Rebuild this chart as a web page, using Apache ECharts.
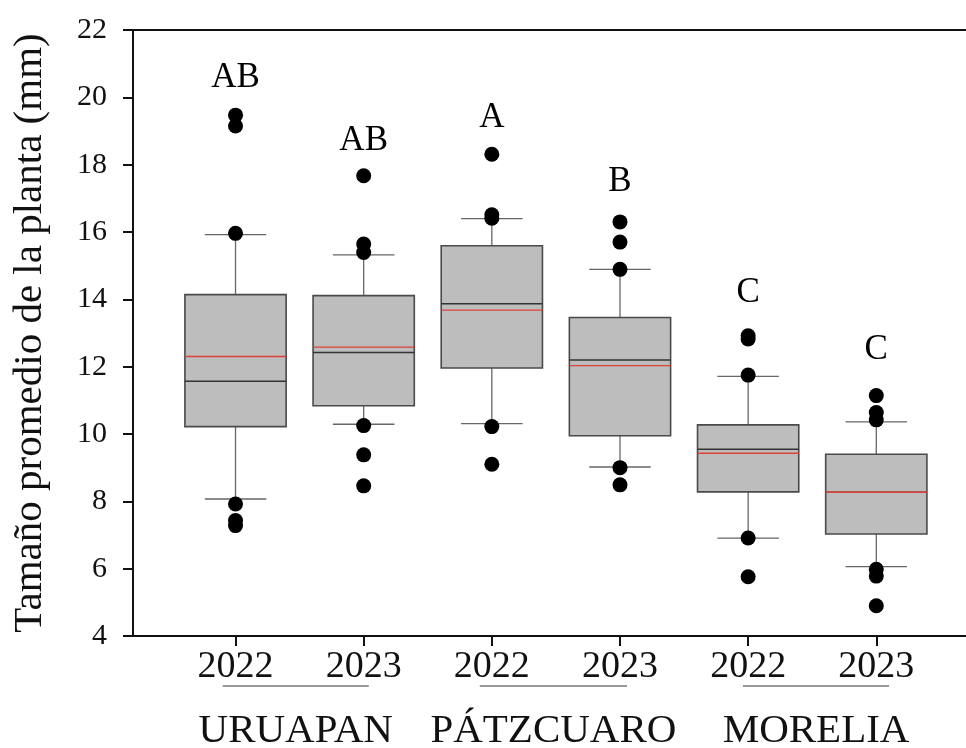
<!DOCTYPE html>
<html>
<head>
<meta charset="utf-8">
<script src="https://cdn.jsdelivr.net/npm/echarts@6/dist/echarts.min.js"></script>
<style>html,body{margin:0;padding:0;background:#fff}#c{width:966px;height:748px}</style>
</head>
<body>
<div id="c"></div>
<script>
// ---------------- data ----------------
const years = ['2022', '2023', '2022', '2023', '2022', '2023'];
const groups = ['URUAPAN', 'PÁTZCUARO', 'MORELIA'];
const groupSpans = [[0.90, 2.04], [2.906, 4.055], [4.96, 6.10]];
const whiskerLow = [8.07, 10.29, 10.31, 9.02, 6.91, 6.06];
const q1 = [10.22, 10.84, 11.96, 9.95, 8.28, 7.03];
const median = [11.57, 12.42, 13.87, 12.20, 9.55, 8.27];
const q3 = [14.14, 14.11, 15.59, 13.46, 10.27, 9.40];
const whiskerHigh = [15.92, 15.32, 16.40, 14.89, 11.71, 10.36];
const mean = [12.30, 12.58, 13.68, 12.03, 9.43, 8.27];
const outliers = [
  [19.47, 19.15, 15.96, 7.92, 7.43, 7.28],
  [17.67, 15.64, 15.39, 10.25, 9.38, 8.46],
  [18.31, 16.51, 16.41, 10.22, 9.10],
  [16.30, 15.70, 14.89, 9.00, 8.49],
  [12.92, 12.82, 11.75, 6.91, 5.76],
  [11.14, 10.64, 10.42, 5.98, 5.78, 4.90]
];
const letters = ['AB', 'AB', 'A', 'B', 'C', 'C'];
const letterY = [20.58, 18.72, 19.38, 17.48, 14.18, 12.50];

// -------------- build ---------------
const positions = years.map((_, i) => i + 1);
const boxData = positions.map((p, i) => [p, whiskerLow[i], q1[i], median[i], q3[i], whiskerHigh[i], mean[i]]);
const outlierData = [];
outliers.forEach((arr, i) => arr.forEach(v => outlierData.push([positions[i], v])));
const letterData = positions.map((p, i) => [p, letterY[i], letters[i]]);
const groupData = groupSpans.map((s, i) => [s[0], s[1], groups[i]]);

const FONT = '"Liberation Serif", "Times New Roman", serif';
const BOX_W = 0.79, CAP_W = 0.48;

const chart = echarts.init(document.getElementById('c'), null, { renderer: 'canvas' });
chart.setOption({
  backgroundColor: '#fff',
  animation: false,
  grid: { left: 133, right: 0, top: 30, bottom: 112, containLabel: false, outerBoundsMode: 'none' },
  xAxis: [{
    type: 'value', min: 0.2, max: 6.7, position: 'bottom',
    axisLine: { show: true, lineStyle: { color: '#111', width: 2 } },
    axisTick: { show: true, customValues: positions, length: 10, lineStyle: { color: '#111', width: 2 } },
    axisLabel: {
      show: true, customValues: positions, margin: 12,
      formatter: v => years[Math.round(v) - 1] || '',
      fontFamily: FONT, fontSize: 38, color: '#111'
    },
    splitLine: { show: false }
  }, {
    type: 'value', min: 0.2, max: 6.7, position: 'top',
    axisLine: { show: true, lineStyle: { color: '#111', width: 2 } },
    axisTick: { show: false }, axisLabel: { show: false }, splitLine: { show: false }
  }],
  yAxis: {
    type: 'value', min: 4, max: 22, interval: 2,
    name: 'Tamaño promedio de la planta (mm)', nameLocation: 'middle', nameGap: 82,
    nameTextStyle: { fontFamily: FONT, fontSize: 41, color: '#111' },
    axisLine: { show: true, lineStyle: { color: '#111', width: 2 } },
    axisTick: { show: true, inside: false, length: 10, lineStyle: { color: '#111', width: 2 } },
    axisLabel: { margin: 26, fontFamily: FONT, fontSize: 30, color: '#111' },
    splitLine: { show: false }
  },
  series: [{
    type: 'custom',
    data: boxData,
    encode: { x: 0, y: [1, 2, 3, 4, 5] },
    z: 2,
    renderItem: function (params, api) {
      const x = api.value(0);
      const lo = api.value(1), a = api.value(2), md = api.value(3), b = api.value(4), hi = api.value(5), mn = api.value(6);
      const c = (xx, yy) => api.coord([xx, yy]);
      const gray = { stroke: '#666', lineWidth: 1.3 };
      const tl = c(x - BOX_W / 2, b), br = c(x + BOX_W / 2, a);
      const ln = (p1, p2, style) => ({ type: 'line', shape: { x1: p1[0], y1: p1[1], x2: p2[0], y2: p2[1] }, style: style });
      return {
        type: 'group',
        children: [
          ln(c(x, hi), c(x, b), gray),
          ln(c(x, a), c(x, lo), gray),
          ln(c(x - CAP_W / 2, hi), c(x + CAP_W / 2, hi), gray),
          ln(c(x - CAP_W / 2, lo), c(x + CAP_W / 2, lo), gray),
          { type: 'rect', shape: { x: tl[0], y: tl[1], width: br[0] - tl[0], height: br[1] - tl[1] },
            style: { fill: '#bdbdbd', stroke: '#4a4a4a', lineWidth: 1.6 } },
          ln(c(x - BOX_W / 2, md), c(x + BOX_W / 2, md), { stroke: '#333', lineWidth: 1.5 }),
          ln(c(x - BOX_W / 2, mn), c(x + BOX_W / 2, mn), { stroke: '#e0403a', lineWidth: 1.4 })
        ]
      };
    }
  }, {
    type: 'scatter',
    data: outlierData,
    symbol: 'circle', symbolSize: 15,
    itemStyle: { color: '#000', opacity: 1 },
    z: 5
  }, {
    type: 'scatter',
    data: letterData,
    symbolSize: 0,
    itemStyle: { opacity: 1, color: '#000' },
    label: {
      show: true, position: 'inside', formatter: p => p.data[2],
      fontFamily: FONT, fontSize: 35, color: '#000', opacity: 1
    },
    z: 6
  }, {
    type: 'custom',
    data: groupData,
    encode: { x: [0, 1] },
    clip: false,
    z: 3,
    renderItem: function (params, api) {
      const s = api.value(0), e = api.value(1);
      const p1 = api.coord([s, 4]), p2 = api.coord([e, 4]);
      const yLine = p1[1] + 50;
      return {
        type: 'group',
        children: [
          { type: 'line', shape: { x1: p1[0], y1: yLine, x2: p2[0], y2: yLine }, style: { stroke: '#777', lineWidth: 1.3 } },
          { type: 'text', x: (p1[0] + p2[0]) / 2, y: p1[1] + 95,
            style: { text: groups[params.dataIndex], fontFamily: FONT, fontSize: 41, fill: '#111', align: 'center', verticalAlign: 'middle' } }
        ]
      };
    }
  }]
});
</script>
</body>
</html>
